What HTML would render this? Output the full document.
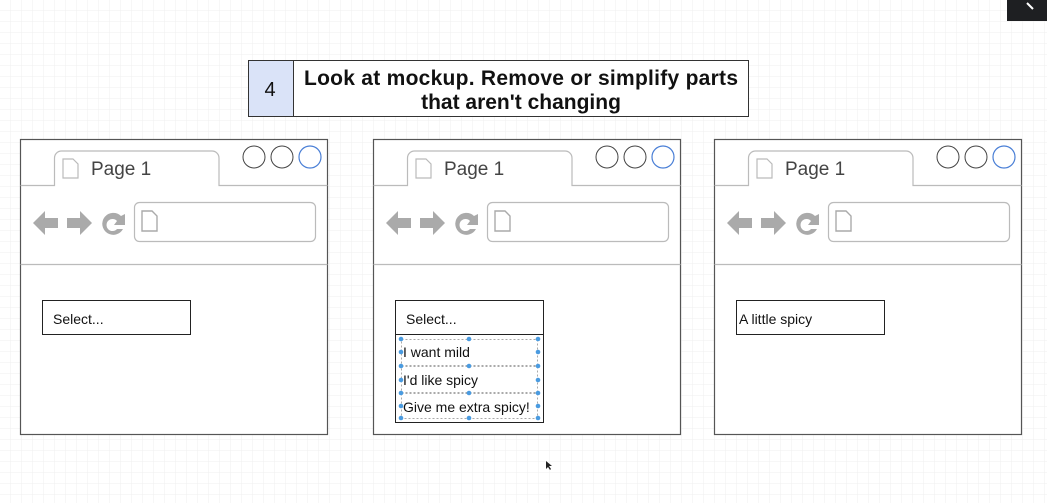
<!DOCTYPE html>
<html><head><meta charset="utf-8"><style>
html,body{margin:0;padding:0;width:1047px;height:503px;overflow:hidden;background:#fff}
svg{display:block}
text{font-family:"Liberation Sans",Arial,sans-serif}
</style></head><body>
<svg width="1047" height="503" viewBox="0 0 1047 503" xmlns="http://www.w3.org/2000/svg">
<defs>
<pattern id="grid" width="11" height="11" patternUnits="userSpaceOnUse">
<path d="M11 0V11H0" fill="none" stroke="#efefef" stroke-width="1"/>
</pattern>
<g id="win">
<rect x="20.5" y="139.5" width="307" height="295" fill="#fff" stroke="#555" stroke-width="1.2"/>
<path d="M20.5 185.5H54.5V158a7 7 0 0 1 7-7H212a7 7 0 0 1 7 7V185.5H327.5" fill="none" stroke="#bbb" stroke-width="1.2"/>
<line x1="20.5" y1="264.5" x2="327.5" y2="264.5" stroke="#bbb" stroke-width="1.2"/>
<path d="M63 159h10l5 5v14h-15z" fill="#fff" stroke="#bbb" stroke-width="1.2"/>
<circle cx="254" cy="157" r="11" fill="#fff" stroke="#444" stroke-width="1"/>
<circle cx="282" cy="157" r="11" fill="#fff" stroke="#444" stroke-width="1"/>
<circle cx="310" cy="157" r="11" fill="#fff" stroke="#4a7fd6" stroke-width="1.2"/>
<rect x="134.5" y="202.5" width="181" height="39" rx="5" fill="#fff" stroke="#bbb" stroke-width="1.2"/>
<path d="M142 211h10l5 5v15h-15z" fill="#fff" stroke="#aaa" stroke-width="1.4"/>
<path d="M33 223l12-12v7h13v10h-13v7z" fill="#aaa"/>
<path d="M92 223l-12-12v7h-13v10h13v7z" fill="#aaa"/>
<path d="M121 216a11 11 0 1 0 2 13h-6a6 6 0 1 1 0-8l-3 4h11v-11z" fill="#aaa"/>
</g>
</defs>
<rect width="1047" height="503" fill="url(#grid)"/>
<rect x="1007" y="0" width="40" height="21" fill="#1e1f22"/>
<path d="M1027 3l6 6" stroke="#fff" stroke-width="2"/>

<rect x="248.5" y="60.5" width="45" height="56" fill="#dae3f8" stroke="#333"/>
<rect x="293.5" y="60.5" width="455" height="56" fill="#fff" stroke="#333"/>
<text x="270" y="96" font-size="20" text-anchor="middle" fill="#111">4</text>
<text x="521" y="85" font-size="21" font-weight="bold" text-anchor="middle" fill="#111" textLength="434">Look at mockup. Remove or simplify parts</text>
<text x="521" y="109" font-size="21" font-weight="bold" text-anchor="middle" fill="#111">that aren't changing</text>

<use href="#win"/>
<use href="#win" transform="translate(353,0)"/>
<use href="#win" transform="translate(694,0)"/>

<text x="91" y="175" font-size="19" fill="#444">Page 1</text>
<text x="444" y="175" font-size="19" fill="#444">Page 1</text>
<text x="785" y="175" font-size="19" fill="#444">Page 1</text>

<rect x="42.5" y="300.5" width="148" height="34" fill="#fff" stroke="#222"/>
<text x="53" y="324" font-size="14" fill="#111">Select...</text>

<rect x="395.5" y="300.5" width="148" height="34" fill="#fff" stroke="#222"/>
<text x="406" y="324" font-size="14" fill="#111">Select...</text>
<rect x="395.5" y="334.5" width="148" height="88" fill="#fff" stroke="#222"/>
<g stroke="#aaa" stroke-dasharray="2 2" fill="none">
<rect x="401.5" y="339.5" width="136" height="26"/>
<rect x="401.5" y="366.5" width="136" height="26"/>
<rect x="401.5" y="393.5" width="136" height="25"/>
</g>
<g fill="#4a9be0">
<circle cx="401" cy="339" r="2.3"/><circle cx="469" cy="339" r="2.3"/><circle cx="538" cy="339" r="2.3"/>
<circle cx="401" cy="352" r="2.3"/><circle cx="538" cy="352" r="2.3"/>
<circle cx="401" cy="366" r="2.3"/><circle cx="469" cy="366" r="2.3"/><circle cx="538" cy="366" r="2.3"/>
<circle cx="401" cy="380" r="2.3"/><circle cx="538" cy="380" r="2.3"/>
<circle cx="401" cy="393" r="2.3"/><circle cx="469" cy="393" r="2.3"/><circle cx="538" cy="393" r="2.3"/>
<circle cx="401" cy="406" r="2.3"/><circle cx="538" cy="406" r="2.3"/>
<circle cx="401" cy="418" r="2.3"/><circle cx="469" cy="418" r="2.3"/><circle cx="538" cy="418" r="2.3"/>
</g>
<text x="403" y="357" font-size="14" fill="#111">I want mild</text>
<text x="403" y="385" font-size="14" fill="#111">I'd like spicy</text>
<text x="403" y="412" font-size="14" fill="#111">Give me extra spicy!</text>

<rect x="736.5" y="300.5" width="148" height="34" fill="#fff" stroke="#222"/>
<text x="739" y="324" font-size="14" fill="#111">A little spicy</text>

<path d="M546 461l0 8 2-2 2 3 1-1-2-3 3 0z" fill="#222"/>
</svg>
</body></html>
